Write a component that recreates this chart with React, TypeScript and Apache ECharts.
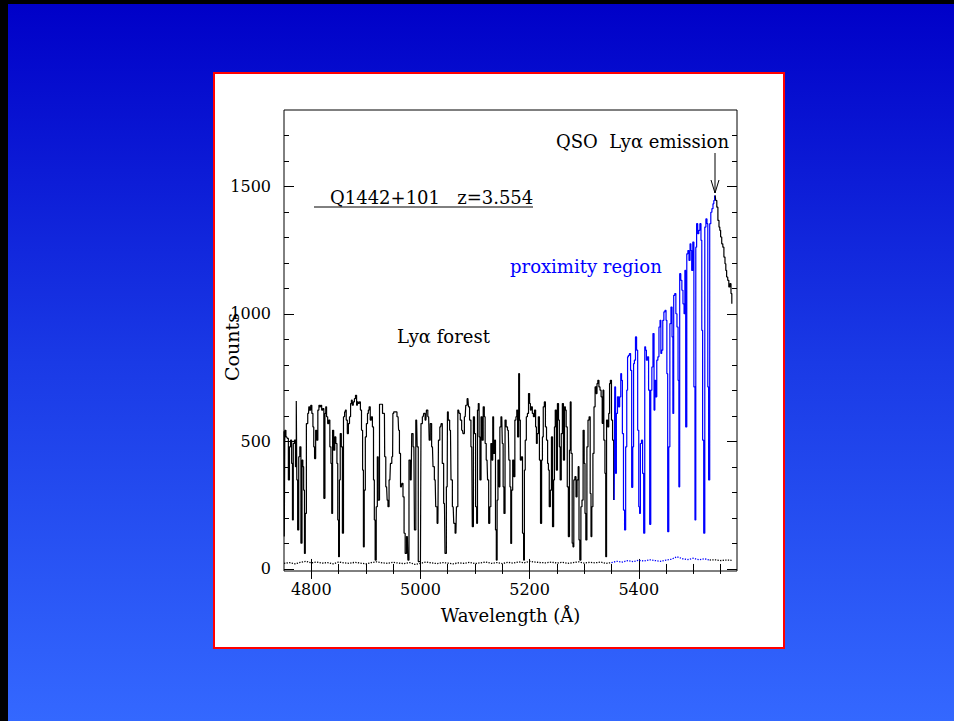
import React, { useEffect, useRef } from "react";
import * as echarts from "echarts";

// Spectrum of Q1442+101 (wavelength in Å, counts)
const wavelengths = [
  4750, 4751, 4752, 4755, 4757, 4759, 4761, 4763, 4765, 4766, 4768, 4770, 4772, 4773, 4774, 4776, 4778, 4780, 4782, 4784,
  4785, 4787, 4788, 4790, 4792, 4795, 4796, 4798, 4800, 4802, 4804, 4805, 4807, 4809, 4811, 4813, 4815, 4816, 4818, 4820,
  4822, 4824, 4826, 4827, 4829, 4831, 4833, 4835, 4837, 4838, 4840, 4842, 4844, 4846, 4848, 4849, 4851, 4852, 4854, 4856,
  4858, 4860, 4862, 4863, 4865, 4867, 4869, 4871, 4873, 4874, 4876, 4878, 4880, 4882, 4884, 4885, 4887, 4889, 4891, 4893,
  4895, 4896, 4898, 4900, 4902, 4904, 4905, 4907, 4909, 4911, 4913, 4915, 4916, 4918, 4920, 4922, 4923, 4927, 4929, 4932,
  4934, 4935, 4938, 4940, 4941, 4944, 4946, 4949, 4950, 4952, 4955, 4959, 4961, 4962, 4965, 4967, 4969, 4971, 4973, 4976,
  4978, 4980, 4983, 4985, 4988, 4990, 4993, 4995, 4997, 5000, 5002, 5005, 5007, 5010, 5012, 5015, 5017, 5019, 5022, 5024,
  5027, 5029, 5032, 5034, 5037, 5039, 5041, 5044, 5046, 5049, 5050, 5052, 5055, 5057, 5060, 5062, 5065, 5067, 5070, 5072,
  5074, 5077, 5079, 5082, 5084, 5087, 5089, 5091, 5094, 5096, 5098, 5100, 5102, 5104, 5105, 5107, 5108, 5110, 5112, 5114,
  5116, 5118, 5119, 5122, 5124, 5126, 5128, 5130, 5132, 5133, 5135, 5137, 5138, 5140, 5141, 5143, 5145, 5146, 5149, 5151,
  5152, 5154, 5156, 5158, 5161, 5163, 5165, 5166, 5168, 5170, 5172, 5174, 5176, 5177, 5179, 5181, 5182, 5184, 5186, 5188,
  5190, 5191, 5193, 5195, 5197, 5199, 5201, 5202, 5204, 5206, 5208, 5210, 5212, 5213, 5215, 5217, 5219, 5221, 5223, 5224,
  5226, 5228, 5230, 5232, 5234, 5235, 5237, 5239, 5241, 5243, 5245, 5246, 5248, 5250, 5252, 5254, 5255, 5257, 5259, 5261,
  5263, 5265, 5266, 5268, 5270, 5272, 5274, 5275, 5277, 5279, 5280, 5282, 5284, 5286, 5288, 5290, 5291, 5293, 5295, 5297,
  5299, 5301, 5302, 5304, 5306, 5308, 5310, 5312, 5313, 5315, 5317, 5319, 5321, 5323, 5324, 5326, 5328, 5330, 5332, 5334,
  5335, 5337, 5339, 5340, 5342, 5344, 5346, 5347, 5349, 5351, 5353, 5355, 5357, 5358, 5360, 5362, 5364, 5366, 5368, 5369,
  5371, 5373, 5375, 5377, 5379, 5380, 5382, 5384, 5386, 5388, 5390, 5391, 5393, 5395, 5397, 5399, 5401, 5402, 5404, 5406,
  5408, 5410, 5412, 5413, 5415, 5417, 5419, 5421, 5423, 5425, 5427, 5429, 5430, 5432, 5434, 5436, 5438, 5440, 5441, 5443,
  5445, 5447, 5449, 5451, 5452, 5454, 5456, 5458, 5460, 5462, 5463, 5465, 5467, 5469, 5471, 5473, 5474, 5476, 5478, 5480,
  5482, 5484, 5485, 5487, 5489, 5491, 5493, 5495, 5496, 5498, 5500, 5502, 5504, 5505, 5507, 5509, 5511, 5513, 5515, 5516,
  5518, 5520, 5522, 5524, 5526, 5527, 5529, 5531, 5533, 5535, 5537, 5538, 5540, 5542, 5544, 5546, 5548, 5549, 5551, 5553,
  5555, 5557, 5559, 5560, 5562, 5564, 5566, 5568, 5570, 5571,
];
const counts = [
  540, 127, 544, 518, 512, 349, 479, 505, 414, 192, 492, 505, 401, 659, 349, 153, 440, 479, 101, 427,
  401, 309, 61, 218, 570, 610, 636, 623, 642, 610, 557, 479, 433, 544, 505, 623, 642, 636, 642, 623,
  629, 277, 610, 636, 597, 570, 584, 479, 414, 218, 544, 466, 518, 492, 414, 192, 48, 349, 531, 479,
  140, 597, 616, 623, 584, 531, 570, 597, 649, 662, 642, 655, 668, 681, 642, 655, 649, 655, 623, 544,
  388, 87, 309, 518, 570, 610, 623, 636, 584, 597, 557, 349, 192, 35, 244, 440, 270, 646, 646, 610,
  610, 440, 322, 270, 244, 349, 414, 440, 610, 616, 616, 597, 544, 453, 322, 336, 283, 140, 61, 127,
  35, 427, 349, 531, 479, 153, 584, 479, 29, 29, 570, 597, 610, 584, 623, 597, 505, 570, 479, 401,
  349, 244, 179, 505, 557, 570, 414, 257, 61, 322, 616, 584, 544, 349, 244, 179, 140, 244, 623, 610,
  584, 544, 531, 597, 642, 668, 636, 584, 479, 166, 597, 531, 244, 179, 623, 649, 518, 349, 597, 505,
  636, 597, 492, 427, 349, 179, 244, 492, 427, 597, 453, 505, 153, 35, 270, 427, 322, 557, 597, 492,
  322, 218, 584, 557, 544, 427, 322, 100, 309, 427, 362, 584, 597, 623, 518, 766, 584, 427, 440, 140,
  35, 388, 505, 597, 610, 688, 649, 623, 636, 610, 597, 623, 557, 492, 531, 597, 427, 179, 427, 518,
  636, 655, 557, 505, 414, 388, 244, 309, 518, 166, 349, 557, 623, 388, 649, 584, 479, 349, 531, 649,
  427, 636, 623, 557, 322, 127, 466, 655, 453, 101, 87, 349, 362, 283, 349, 401, 114, 35, 244, 270,
  544, 414, 218, 114, 479, 584, 597, 296, 127, 244, 453, 636, 714, 688, 727, 740, 714, 701, 675, 571,
  701, 505, 375, 48, 584, 557, 610, 727, 740, 584, 505, 270, 714, 375, 610, 675, 636, 675, 766, 740,
  531, 231, 153, 479, 701, 832, 838, 845, 779, 320, 479, 805, 819, 910, 858, 544, 244, 218, 492, 505,
  375, 140, 871, 858, 819, 832, 701, 175, 701, 792, 923, 623, 740, 675, 819, 832, 949, 975, 845, 858,
  975, 1008, 1014, 975, 766, 146, 479, 962, 1027, 910, 610, 1073, 1080, 1001, 949, 740, 322, 1158, 1132, 1093,
  1040, 1001, 1171, 557, 1236, 1249, 1210, 1275, 1249, 1171, 1282, 714, 192, 1262, 1354, 1315, 1328, 1354, 1289, 936,
  505, 140, 1341, 1373, 1354, 714, 349, 1354, 1399, 1413, 1432, 1445, 1465, 1445, 1419, 1367, 1341, 1328, 1302, 1275,
  1262, 1223, 1197, 1171, 1145, 1132, 1106, 1119, 1080, 1040,
];

// Noise (sigma) spectrum near the bottom
const noiseWavelengths = [
  4750, 4760, 4770, 4780, 4790, 4800, 4810, 4820, 4830, 4840, 4850, 4860, 4870, 4880, 4890, 4900, 4910, 4920, 4930, 4940,
  4950, 4960, 4970, 4980, 4990, 5000, 5010, 5020, 5030, 5040, 5050, 5060, 5070, 5080, 5090, 5100, 5110, 5120, 5130, 5140,
  5150, 5160, 5170, 5180, 5190, 5200, 5210, 5220, 5230, 5240, 5250, 5260, 5270, 5280, 5290, 5300, 5310, 5320, 5330, 5340,
  5350, 5360, 5370, 5380, 5390, 5400, 5410, 5420, 5430, 5440, 5450, 5460, 5470, 5480, 5490, 5500, 5510, 5520, 5530, 5540,
  5550, 5560, 5570,
];
const noiseCounts = [
  22, 25, 20, 26, 30, 24, 27, 23, 25, 20, 27, 24, 22, 26, 23, 20, 25, 28, 24, 22,
  26, 23, 21, 25, 18, 22, 27, 24, 21, 25, 23, 20, 24, 22, 26, 21, 24, 27, 22, 25,
  21, 26, 23, 28, 24, 30, 27, 25, 24, 27, 23, 26, 22, 25, 28, 23, 26, 24, 27, 22,
  25, 30, 27, 33, 29, 34, 31, 36, 33, 30, 35, 38, 48, 40, 37, 42, 36, 40, 35, 36,
  33, 35, 34,
];

const blueStart = 5355;
const blueEnd = 5540;
const noiseBlueStart = 5350;
const noiseBlueEnd = 5530;

const xMajorTicks = [4800, 5000, 5200, 5400];
const xMinorTicks = [4800, 4850, 4900, 4950, 5000, 5050, 5100, 5150, 5200, 5250, 5300, 5350, 5400, 5450, 5500, 5550];
const yMajorTicks = [0, 500, 1000, 1500];
const yMinorTicks = [100, 200, 300, 400, 600, 700, 800, 900, 1100, 1200, 1300, 1400, 1600, 1700];

const FONT = "DejaVu Serif";

function pairs(xs: number[], ys: number[], lo: number, hi: number) {
  const out: number[][] = [];
  for (let i = 0; i < xs.length; i++) {
    if (xs[i] >= lo && xs[i] <= hi) out.push([xs[i], ys[i]]);
  }
  return out;
}

const plain = (v: number) => String(v);

export default function App() {
  const ref = useRef<HTMLDivElement>(null);

  useEffect(() => {
    if (!ref.current) return;
    const chart = echarts.init(ref.current, undefined, { renderer: "svg" });

    const tickAxis = (pos: string, values: number[], len: number, labels: boolean, extra: any = {}) => ({
      type: "value",
      position: pos,
      min: 4750,
      max: 5580,
      axisLine: { show: false },
      splitLine: { show: false },
      axisTick: { show: true, inside: true, length: len, customValues: values, lineStyle: { color: "#000", width: 1 } },
      axisLabel: labels
        ? { show: true, customValues: values, formatter: plain, fontFamily: FONT, fontSize: 16, color: "#000", margin: 10 }
        : { show: false },
      ...extra,
    });
    const yTickAxis = (pos: string, values: number[], len: number, labels: boolean, extra: any = {}) => ({
      type: "value",
      position: pos,
      min: -8,
      max: 1800,
      axisLine: { show: false },
      splitLine: { show: false },
      axisTick: { show: true, inside: true, length: len, customValues: values, lineStyle: { color: "#000", width: 1 } },
      axisLabel: labels
        ? { show: true, customValues: values, formatter: plain, fontFamily: FONT, fontSize: 16, color: "#000", margin: 13 }
        : { show: false },
      ...extra,
    });

    const lineSeries = (name: string, data: number[][], color: string, dotted = false) => ({
      name,
      type: "line",
      xAxisIndex: 0,
      yAxisIndex: 0,
      data,
      step: dotted ? false : "middle",
      showSymbol: false,
      symbol: "none",
      silent: true,
      lineStyle: { color, width: dotted ? 1.3 : 1.2, type: dotted ? "dotted" : "solid" },
      z: dotted ? 1 : 2,
    });

    chart.setOption({
      animation: false,
      grid: {
        left: 284,
        right: 217,
        top: 110,
        bottom: 150,
        show: true,
        borderColor: "#000",
        borderWidth: 1,
        backgroundColor: "transparent",
      },
      xAxis: [
        tickAxis("bottom", xMajorTicks, 10, true, {
          name: "Wavelength (Å)",
          nameLocation: "middle",
          nameGap: 35,
          nameTextStyle: { fontFamily: FONT, fontSize: 18, color: "#000" },
        }),
        tickAxis("bottom", xMinorTicks, 5, false),
        tickAxis("top", xMajorTicks, 10, false),
        tickAxis("top", xMinorTicks, 5, false),
      ],
      yAxis: [
        yTickAxis("left", yMajorTicks, 10, true),
        yTickAxis("left", yMinorTicks, 5, false),
        yTickAxis("right", yMajorTicks, 10, false),
        yTickAxis("right", yMinorTicks, 5, false),
      ],
      series: [
        lineSeries("noise", pairs(noiseWavelengths, noiseCounts, 0, noiseBlueStart), "#000", true),
        lineSeries("noise proximity", pairs(noiseWavelengths, noiseCounts, noiseBlueStart, noiseBlueEnd), "#0000ff", true),
        lineSeries("noise red", pairs(noiseWavelengths, noiseCounts, noiseBlueEnd, 99999), "#000", true),
        lineSeries("Lyα forest", pairs(wavelengths, counts, 0, blueStart), "#000"),
        lineSeries("proximity region", pairs(wavelengths, counts, blueStart, blueEnd), "#0000ff"),
        lineSeries("Lyα emission", pairs(wavelengths, counts, blueEnd, 99999), "#000"),
      ],
      graphic: [
        {
          type: "text",
          x: 232,
          y: 347,
          rotation: Math.PI / 2,
          z: 10,
          style: { text: "Counts", fontFamily: FONT, fontSize: 19, fill: "#000", textAlign: "center", textVerticalAlign: "middle" },
        },
        {
          type: "text",
          x: 729,
          y: 141,
          z: 10,
          style: { text: "QSO  Lyα emission", fontFamily: FONT, fontSize: 18, fill: "#000", textAlign: "right", textVerticalAlign: "middle" },
        },
        { type: "line", z: 10, shape: { x1: 715, y1: 153, x2: 715, y2: 193 }, style: { stroke: "#000", lineWidth: 1 } },
        { type: "polyline", z: 10, shape: { points: [[711, 180], [715, 193], [719, 180]] }, style: { stroke: "#000", lineWidth: 1, fill: "none" } },
        {
          type: "text",
          x: 330,
          y: 197,
          z: 10,
          style: { text: "Q1442+101   z=3.554", fontFamily: FONT, fontSize: 18, fill: "#000", textAlign: "left", textVerticalAlign: "middle" },
        },
        { type: "line", z: 10, shape: { x1: 314, y1: 207, x2: 533, y2: 207 }, style: { stroke: "#000", lineWidth: 1 } },
        {
          type: "text",
          x: 510,
          y: 266,
          z: 10,
          style: { text: "proximity region", fontFamily: FONT, fontSize: 18, fill: "#0000ff", textAlign: "left", textVerticalAlign: "middle" },
        },
        {
          type: "text",
          x: 397,
          y: 336,
          z: 10,
          style: { text: "Lyα forest", fontFamily: FONT, fontSize: 18, fill: "#000", textAlign: "left", textVerticalAlign: "middle" },
        },
      ],
    });

    return () => chart.dispose();
  }, []);

  return (
    <div style={{ position: "fixed", left: 0, top: 0, width: 954, height: 721, background: "#000", overflow: "hidden" }}>
      <div
        style={{
          position: "absolute",
          left: 8,
          top: 4,
          right: 0,
          bottom: 0,
          background: "linear-gradient(180deg, #0000c8 0%, #1a3ae6 50%, #3468ff 100%)",
        }}
      />
      <div
        style={{
          position: "absolute",
          left: 213,
          top: 72,
          width: 572,
          height: 577,
          boxSizing: "border-box",
          border: "2px solid #ff0000",
          background: "#fff",
        }}
      />
      <div ref={ref} style={{ position: "absolute", left: 0, top: 0, width: 954, height: 721 }} />
    </div>
  );
}
